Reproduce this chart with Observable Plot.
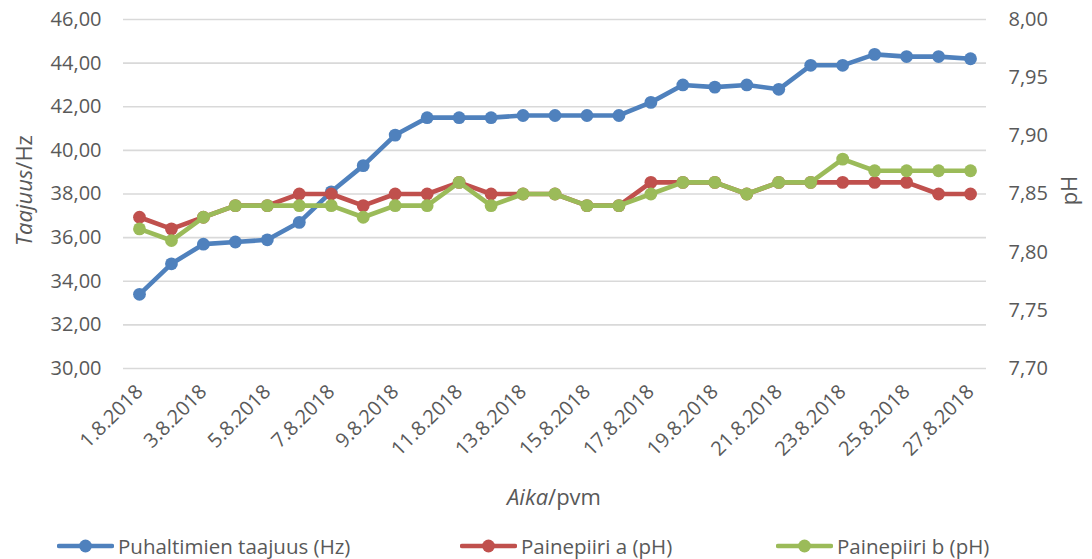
<!DOCTYPE html>
<html>
<head>
<meta charset="utf-8">
<script src="https://cdn.jsdelivr.net/npm/d3@7"></script>
<script src="https://cdn.jsdelivr.net/npm/@observablehq/plot@0.6"></script>
<style>
  html, body { margin: 0; padding: 0; background: #fff; }
  #chart { position: relative; width: 1092px; height: 559px; font-family: "Open Sans", sans-serif; color: #595959; }
  #legend { position: absolute; top: 532px; left: 0; width: 1092px; height: 28px; font-size: 20.5px; }
  .item { position: absolute; top: 0; display: flex; align-items: center; height: 28px; white-space: nowrap; }
  .item svg { margin-right: 4px; }
</style>
</head>
<body>
<div id="chart"><div id="legend"></div></div>
<script>
// Daily readings, August 2018
const dates = [
  "1.8.2018", "2.8.2018", "3.8.2018", "4.8.2018", "5.8.2018", "6.8.2018", "7.8.2018",
  "8.8.2018", "9.8.2018", "10.8.2018", "11.8.2018", "12.8.2018", "13.8.2018", "14.8.2018",
  "15.8.2018", "16.8.2018", "17.8.2018", "18.8.2018", "19.8.2018", "20.8.2018", "21.8.2018",
  "22.8.2018", "23.8.2018", "24.8.2018", "25.8.2018", "26.8.2018", "27.8.2018"
];
// Blower frequency (Hz), left axis
const taajuus = [33.4, 34.8, 35.7, 35.8, 35.9, 36.7, 38.1, 39.3, 40.7, 41.5, 41.5, 41.5, 41.6, 41.6,
  41.6, 41.6, 42.2, 43.0, 42.9, 43.0, 42.8, 43.9, 43.9, 44.4, 44.3, 44.3, 44.2];
// Pressure circuit pH, right axis
const painepiiriA = [7.83, 7.82, 7.83, 7.84, 7.84, 7.85, 7.85, 7.84, 7.85, 7.85, 7.86, 7.85, 7.85, 7.85,
  7.84, 7.84, 7.86, 7.86, 7.86, 7.85, 7.86, 7.86, 7.86, 7.86, 7.86, 7.85, 7.85];
const painepiiriB = [7.82, 7.81, 7.83, 7.84, 7.84, 7.84, 7.84, 7.83, 7.84, 7.84, 7.86, 7.84, 7.85, 7.85,
  7.84, 7.84, 7.85, 7.86, 7.86, 7.85, 7.86, 7.86, 7.88, 7.87, 7.87, 7.87, 7.87];

const hzTicks = [30, 32, 34, 36, 38, 40, 42, 44, 46];
const phTicks = [7.70, 7.75, 7.80, 7.85, 7.90, 7.95, 8.00];
const xTickLabels = dates.filter((d, i) => i % 2 === 0);

const seriesNames = ["Puhaltimien taajuus (Hz)", "Painepiiri a (pH)", "Painepiiri b (pH)"];
const colors = ["#4f81bd", "#c0504d", "#9bbb59"];

// Secondary axis: pH 7.70–8.00 shares the vertical range of 30–46 Hz
const hzDomain = [30, 46], phDomain = [7.70, 8.00];
const phToHz = d3.scaleLinear().domain(phDomain).range(hzDomain);

const fmt = (v, n) => v.toFixed(n).replace(".", ",");

const rowsHz = dates.map((d, i) => ({date: d, v: taajuus[i]}));
const rowsA = dates.map((d, i) => ({date: d, v: phToHz(painepiiriA[i])}));
const rowsB = dates.map((d, i) => ({date: d, v: phToHz(painepiiriB[i])}));

const W = 1092, H = 520;
const mTop = 19, mBottom = 152;
const lineW = 4.6, r = 6.4;

const plot = Plot.plot({
  width: W,
  height: H,
  marginTop: mTop,
  marginBottom: mBottom,
  marginLeft: 123,
  marginRight: 106,
  style: {fontFamily: "Open Sans, sans-serif", fontSize: "20px", color: "#595959", background: "#fff"},
  x: {type: "point", domain: dates, padding: 0.5, round: false},
  y: {domain: hzDomain},
  marks: [
    Plot.gridY(hzTicks, {stroke: "#d9d9d9", strokeOpacity: 1, strokeWidth: 1.6}),
    Plot.axisY(hzTicks, {anchor: "left", tickSize: 0, tickPadding: 22, tickFormat: d => fmt(d, 2), label: null, fill: "#595959"}),
    Plot.axisY(phTicks.map(p => phToHz(p)), {anchor: "right", tickSize: 0, tickPadding: 22,
      tickFormat: d => fmt(phToHz.invert(d), 2), label: null, fill: "#595959"}),
    Plot.axisX(xTickLabels, {tickRotate: -45, tickSize: 0, tickPadding: 20, label: null, fill: "#595959"}),
    Plot.line(rowsHz, {x: "date", y: "v", stroke: colors[0], strokeWidth: lineW}),
    Plot.dot(rowsHz, {x: "date", y: "v", r, fill: colors[0]}),
    Plot.line(rowsA, {x: "date", y: "v", stroke: colors[1], strokeWidth: lineW}),
    Plot.dot(rowsA, {x: "date", y: "v", r, fill: colors[1]}),
    Plot.line(rowsB, {x: "date", y: "v", stroke: colors[2], strokeWidth: lineW}),
    Plot.dot(rowsB, {x: "date", y: "v", r, fill: colors[2]})
  ]
});

// Axis titles with partly italic text
const svg = d3.select(plot);
const yMid = (mTop + (H - mBottom)) / 2 - 3;
const t1 = svg.append("text")
  .attr("transform", `translate(32,${yMid}) rotate(-90)`)
  .attr("text-anchor", "middle").attr("fill", "#595959").attr("font-size", 22);
t1.append("tspan").attr("font-style", "italic").text("Taajuus");
t1.append("tspan").text("/Hz");

svg.append("text")
  .attr("transform", `translate(1077,${yMid}) rotate(-90)`)
  .attr("text-anchor", "middle").attr("fill", "#595959").attr("font-size", 22).text("pH");

const t3 = svg.append("text")
  .attr("x", 554).attr("y", 505)
  .attr("text-anchor", "middle").attr("fill", "#595959").attr("font-size", 22);
t3.append("tspan").attr("font-style", "italic").text("Aika");
t3.append("tspan").text("/pvm");

document.getElementById("chart").prepend(plot);

// Legend below the plot
const legend = d3.select("#legend");
const lefts = [57, 460, 776];
seriesNames.forEach((name, i) => {
  const item = legend.append("div").attr("class", "item").style("left", lefts[i] + "px");
  const s = item.append("svg").attr("width", 57).attr("height", 16);
  s.append("line").attr("x1", 2).attr("x2", 55).attr("y1", 8).attr("y2", 8)
    .attr("stroke", colors[i]).attr("stroke-width", lineW).attr("stroke-linecap", "round");
  s.append("circle").attr("cx", 28.5).attr("cy", 8).attr("r", r).attr("fill", colors[i]);
  item.append("span").text(name);
});
</script>
</body>
</html>
